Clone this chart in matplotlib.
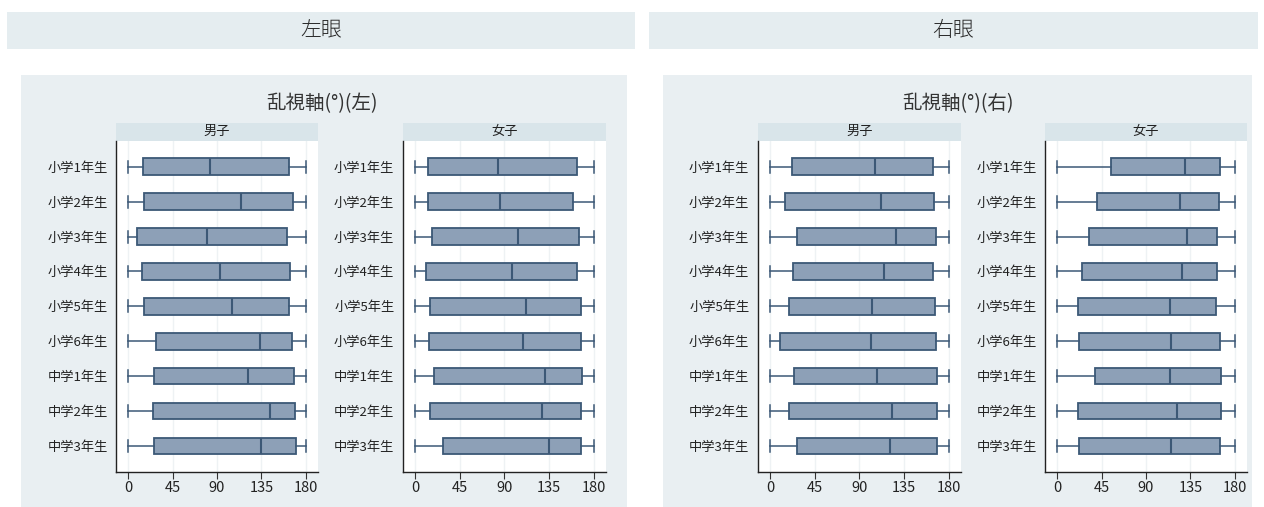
import matplotlib
matplotlib.use("Agg")
import matplotlib.pyplot as plt
from matplotlib.patches import Rectangle

plt.rcParams['font.family'] = ['Noto Sans CJK JP', 'DejaVu Sans']

grades = ["小学1年生", "小学2年生", "小学3年生", "小学4年生", "小学5年生",
          "小学6年生", "中学1年生", "中学2年生", "中学3年生"]
xticks = [0, 45, 90, 135, 180]
eye_titles = ["左眼", "右眼"]
chart_titles = ["乱視軸(°)(左)", "乱視軸(°)(右)"]
sex_labels = ["男子", "女子"]

whis_lo = [0] * 9
whis_hi = [180] * 9

# Left eye, male
L_m_q1 = [14.5, 15.9, 8.8, 13.5, 15.9, 28.1, 25.7, 25.4, 26.1]
L_m_med = [83.2, 114.7, 80.2, 93.3, 105.5, 133.6, 121.8, 143.4, 134.6]
L_m_q3 = [162.7, 166.7, 160.7, 164.0, 163.4, 166.4, 167.8, 168.8, 170.5]
# Left eye, female
L_f_q1 = [12.9, 12.9, 16.9, 10.5, 14.9, 13.9, 18.9, 14.9, 27.7]
L_f_med = [83.2, 85.9, 104.2, 98.1, 111.6, 109.3, 130.9, 127.9, 135.3]
L_f_q3 = [163.4, 159.7, 165.4, 163.7, 167.5, 166.8, 168.5, 167.5, 167.5]
# Right eye, male
R_m_q1 = [21.7, 14.9, 27.4, 23.0, 18.9, 9.8, 24.0, 18.6, 26.7]
R_m_med = [105.6, 111.6, 126.9, 115.0, 103.2, 101.8, 108.3, 122.5, 120.8]
R_m_q3 = [164.4, 164.8, 166.8, 164.4, 165.8, 166.8, 167.8, 168.5, 168.5]
# Right eye, female
R_f_q1 = [54.8, 39.9, 31.8, 24.7, 21.0, 21.7, 37.9, 21.0, 21.7]
R_f_med = [129.9, 124.8, 131.6, 126.9, 114.4, 115.4, 114.4, 121.5, 115.4]
R_f_q3 = [165.4, 163.7, 162.4, 162.4, 161.4, 164.8, 165.8, 166.5, 165.4]

W, H = 1264, 507
fig = plt.figure(figsize=(W / 100, H / 100), dpi=100)
fig.patch.set_facecolor('white')

HEADER_C = '#e5edf0'
PANEL_C = '#e9eff2'
STRIP_C = '#d9e5ea'
FILL_C = '#8da0b7'
EDGE_C = '#3c5876'


def frect(x0, y0, x1, y1, color):
    # pixel coords (top-left origin) -> figure fraction
    fig.patches.append(Rectangle((x0 / W, 1 - y1 / H), (x1 - x0) / W, (y1 - y0) / H,
                                 transform=fig.transFigure, facecolor=color,
                                 edgecolor='none', zorder=-10))


# header bars
frect(7, 12, 635, 49, HEADER_C)
frect(649, 12, 1258, 49, HEADER_C)
fig.text(321 / W, 1 - 30 / H, eye_titles[0], ha='center', va='center', fontsize=15,
         color='#2a2a2a', fontweight='light')
fig.text(953 / W, 1 - 30 / H, eye_titles[1], ha='center', va='center', fontsize=15,
         color='#2a2a2a', fontweight='light')

# chart panels
frect(21, 75, 627, 507, PANEL_C)
frect(663, 75, 1252, 507, PANEL_C)
fig.text(322 / W, 1 - 104 / H, chart_titles[0], ha='center', va='center', fontsize=14, color='#333333')
fig.text(958 / W, 1 - 104 / H, chart_titles[1], ha='center', va='center', fontsize=14, color='#333333')

panels = [
    (116, 318, sex_labels[0], L_m_q1, L_m_med, L_m_q3),
    (402.7, 606, sex_labels[1], L_f_q1, L_f_med, L_f_q3),
    (757.7, 961, sex_labels[0], R_m_q1, R_m_med, R_m_q3),
    (1045, 1247, sex_labels[1], R_f_q1, R_f_med, R_f_q3),
]

top_px, bot_px = 141, 471.7
strip_top = 122.7

for x0, x1, lab, q1, med, q3 in panels:
    ax = fig.add_axes([x0 / W, 1 - bot_px / H, (x1 - x0) / W, (bot_px - top_px) / H])
    ax.set_zorder(1)
    ax.set_facecolor('white')
    stats = []
    for i in range(len(grades)):
        stats.append(dict(med=med[i], q1=q1[i], q3=q3[i],
                          whislo=whis_lo[i], whishi=whis_hi[i], fliers=[]))
    positions = list(range(1, len(grades) + 1))
    ax.bxp(stats, positions=positions, vert=False, widths=0.48, patch_artist=True,
           showfliers=False,
           boxprops=dict(facecolor=FILL_C, edgecolor=EDGE_C, linewidth=1.3),
           medianprops=dict(color=EDGE_C, linewidth=1.5),
           whiskerprops=dict(color=EDGE_C, linewidth=1.1),
           capprops=dict(color=EDGE_C, linewidth=1.1), capwidths=0.34)
    ax.set_xlim(-12.5, 192.5)
    ax.set_ylim(9.74, 0.26)
    ax.set_yticks(positions)
    ax.set_yticklabels(grades, fontsize=9.5, color='#222222')
    ax.tick_params(axis='y', length=0, pad=6)
    ax.set_xticks(xticks)
    ax.set_xticklabels([str(t) for t in xticks], fontsize=10.5, color='#222222')
    ax.tick_params(axis='x', length=5, width=0.8, color='#333333', pad=2)
    for t in xticks:
        ax.axvline(t, color='#eef2f4', linewidth=1.0, zorder=0)
    for s in ['top', 'right']:
        ax.spines[s].set_visible(False)
    ax.spines['left'].set_color('#222222')
    ax.spines['bottom'].set_color('#222222')
    ax.spines['left'].set_linewidth(1.0)
    ax.spines['bottom'].set_linewidth(1.0)
    # strip label
    frect(x0, strip_top, x1, top_px, STRIP_C)
    fig.text((x0 + x1) / 2 / W, 1 - (strip_top + top_px) / 2 / H, lab,
             ha='center', va='center', fontsize=9.5, color='#222222')

fig.savefig('out.png', dpi=100, facecolor=fig.get_facecolor())
